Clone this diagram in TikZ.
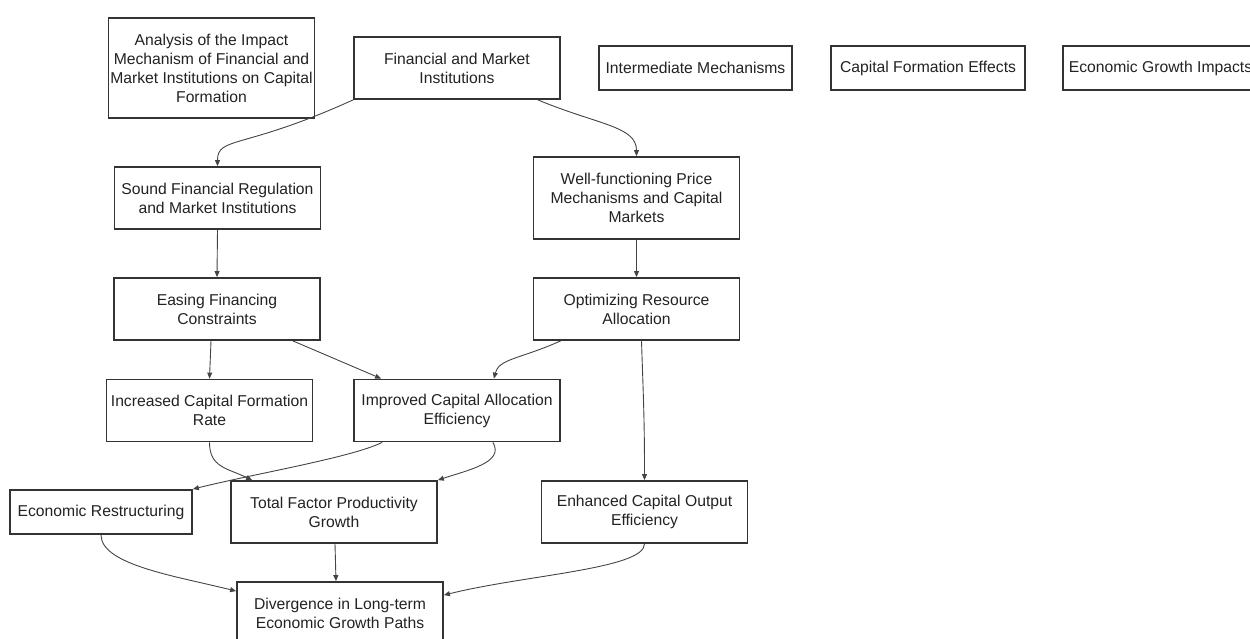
\documentclass[tikz,border=0pt]{standalone}
\usepackage{fontspec}
\setmainfont{Liberation Sans}
\usetikzlibrary{arrows.meta,calc}
\definecolor{boxline}{HTML}{333333}
\definecolor{edgecol}{HTML}{444444}
\definecolor{txt}{HTML}{222222}
\begin{document}
\begin{tikzpicture}[x=1pt,y=-1pt,
  box/.style={draw=boxline, line width=1.8pt, inner sep=0pt, align=center, text=txt,
    font=\fontsize{15.7}{19}\selectfont, minimum width=206pt},
  h1/.style={minimum height=44pt},
  h2/.style={minimum height=62pt},
  h3/.style={minimum height=82pt},
  h4/.style={minimum height=100pt},
  link/.style={draw=edgecol, line width=0.9pt, -{Triangle[length=6pt,width=5pt]}},
]
\path[use as bounding box, clip] (0,0) rectangle (1250,639);

\node[box,h4] (ana) at (211.5,68) {Analysis of the Impact\\Mechanism of Financial and\\Market Institutions on Capital\\Formation};
\node[box,h2] (fmi) at (457,68) {Financial and Market\\Institutions};
\node[box,h1,minimum width=193pt] (inter) at (695.5,68) {Intermediate Mechanisms};
\node[box,h1,minimum width=194pt] (cfe) at (928,68) {Capital Formation Effects};
\node[box,h1,minimum width=195pt] (egi) at (1160.5,68) {Economic Growth Impacts};
\node[box,h2] (sound) at (217.5,198) {Sound Financial Regulation\\and Market Institutions};
\node[box,h3] (well) at (636.5,198) {Well-functioning Price\\Mechanisms and Capital\\Markets};
\node[box,h2] (easing) at (217,309) {Easing Financing\\Constraints};
\node[box,h2] (opt) at (636.5,309) {Optimizing Resource\\Allocation};
\node[box,h2] (incr) at (209.5,410.5) {Increased Capital Formation\\Rate};
\node[box,h2] (impr) at (457,410.5) {Improved Capital Allocation\\Efficiency};
\node[box,h1,minimum width=182pt] (econ) at (101,512) {Economic Restructuring};
\node[box,h2] (tfp) at (334,512) {Total Factor Productivity\\Growth};
\node[box,h2] (enh) at (644.5,512) {Enhanced Capital Output\\Efficiency};
\node[box,h2] (div) at (340,613) {Divergence in Long-term\\Economic Growth Paths};

\draw[link] (fmi.south west) .. controls +(-110,50) and +(0,-30) .. (sound.north);
\draw[link] ($(fmi.south east)+(-23,0)$) .. controls +(60,25) and +(0,-30) .. (well.north);
\draw[link] (sound.south) -- (easing.north);
\draw[link] (well.south) -- (opt.north);
\draw[link] ($(easing.south)+(-6,0)$) -- (incr.north);
\draw[link] ($(easing.south east)+(-28,0)$) -- ($(impr.north west)+(28,0)$);
\draw[link] ($(opt.south west)+(28,0)$) .. controls +(-40,18) and +(5,-20) .. ($(impr.north east)+(-67,0)$);
\draw[link] ($(opt.south)+(5,0)$) .. controls +(2,60) and +(0,-60) .. (enh.north);
\draw[link] (incr.south) .. controls +(0,25) and +(-25,-12) .. ($(tfp.north west)+(22,0)$);
\draw[link] ($(impr.south west)+(29,0)$) .. controls +(-30,15) and +(60,-15) .. (econ.north east);
\draw[link] ($(impr.south east)+(-68,0)$) .. controls +(12,20) and +(30,-10) .. (tfp.north east);
\draw[link] (econ.south) .. controls +(0,30) and +(-60,-15) .. ($(div.north west)+(0,10)$);
\draw[link] ($(tfp.south)+(1,0)$) -- ($(div.north)+(-4,0)$);
\draw[link] (enh.south) .. controls +(0,25) and +(80,-20) .. ($(div.north east)+(0,14)$);
\end{tikzpicture}
\end{document}
